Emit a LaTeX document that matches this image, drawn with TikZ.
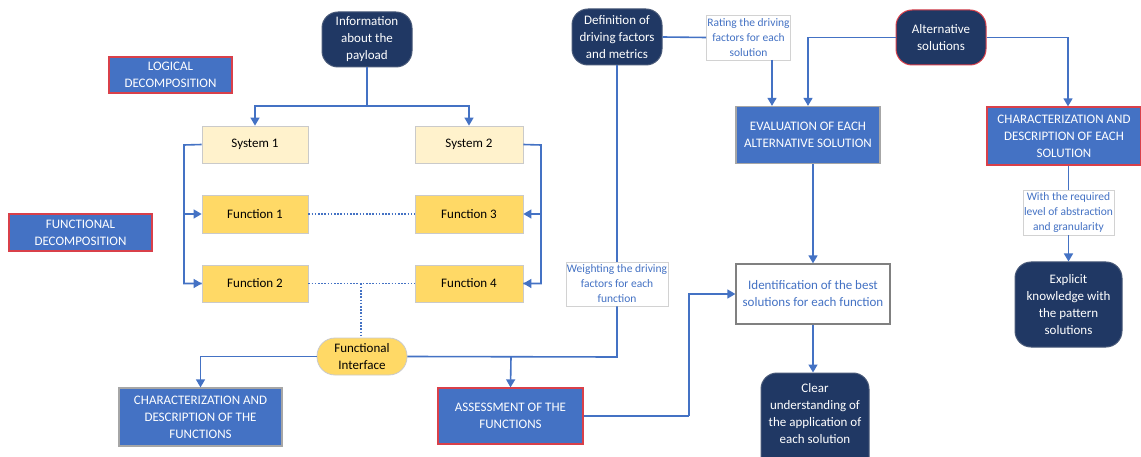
\documentclass[tikz,border=0pt]{standalone}
\usepackage{fontspec}
\setmainfont{Carlito}
\usetikzlibrary{arrows.meta}
\definecolor{navy}{HTML}{203864}
\definecolor{mblue}{HTML}{4472C4}
\definecolor{redline}{HTML}{D9404A}
\definecolor{greyline}{HTML}{A6A6A6}
\definecolor{paleyellow}{HTML}{FFF2CC}
\definecolor{gold}{HTML}{FFD966}
\tikzset{
  base/.style={inner sep=1pt, align=center, font=\fontsize{13}{17}\selectfont, line width=1pt},
  navybox/.style={base, fill=navy, draw=navy!70!greyline, text=white, rounded corners=16pt},
  navyred/.style={navybox, draw=redline},
  bluebox/.style={base, fill=mblue, draw=greyline, text=white, line width=1.3pt},
  bluered/.style={base, fill=mblue, draw=redline, text=white, line width=1.3pt},
  sysbox/.style={base, fill=paleyellow, draw=greyline!60, line width=0.8pt},
  funcbox/.style={base, fill=gold, draw=greyline!60, line width=0.8pt},
  notebox/.style={base, fill=white, draw=greyline!50, text=mblue, line width=0.6pt, font=\fontsize{11.5}{15}\selectfont},
  whitebox/.style={base, fill=white, draw=gray, text=mblue, line width=1.3pt},
  link/.style={draw=mblue, line width=1.6pt},
  arr/.style={link, -{Triangle[length=8pt,width=9pt]}},
  dotlink/.style={draw=mblue, line width=1.4pt, dash pattern=on 1.6pt off 1.6pt},
}
\begin{document}
\begin{tikzpicture}[x=1pt,y=-1pt]
\useasboundingbox[fill=white] (0,0) rectangle (1141,457);

% left side: decomposition of the payload
\node[navybox, minimum width=90pt, minimum height=55pt] (info) at (367,39.5) {Information\\about the\\payload};
\node[bluered, minimum width=123pt, minimum height=36pt] (logic) at (170.5,75) {LOGICAL\\DECOMPOSITION};
\node[bluered, minimum width=143pt, minimum height=37pt] (funcdec) at (80.5,232.5) {FUNCTIONAL\\DECOMPOSITION};
\node[sysbox, minimum width=106pt, minimum height=37pt] (sys1) at (255,144.5) {System 1};
\node[sysbox, minimum width=108pt, minimum height=37pt] (sys2) at (469,144.5) {System 2};
\node[funcbox, minimum width=106pt, minimum height=38pt] (f1) at (255,214) {Function 1};
\node[funcbox, minimum width=108pt, minimum height=38pt] (f3) at (469,214) {Function 3};
\node[funcbox, minimum width=106pt, minimum height=37pt] (f2) at (255,283.5) {Function 2};
\node[funcbox, minimum width=108pt, minimum height=37pt] (f4) at (469,283.5) {Function 4};
\node[funcbox, minimum width=90pt, minimum height=37pt, rounded corners=18pt] (fi) at (362,356.5) {Functional\\Interface};
\node[bluebox, minimum width=163pt, minimum height=58pt] (charf) at (200.5,417) {CHARACTERIZATION AND\\DESCRIPTION OF THE\\FUNCTIONS};
\node[bluered, minimum width=145pt, minimum height=56pt] (assess) at (510.5,416) {ASSESSMENT OF THE\\FUNCTIONS};

% middle: driving factors and evaluation
\node[navybox, minimum width=90pt, minimum height=56pt] (def) at (617,37) {Definition of\\driving factors\\and metrics};
\node[notebox, minimum width=83pt, minimum height=45pt] (rate) at (748.5,37.5) {Rating the driving\\factors for each\\solution};
\node[notebox, minimum width=102pt, minimum height=44pt] (weight) at (617,284) {Weighting the driving\\factors for each\\function};
\node[bluebox, minimum width=144pt, minimum height=57pt] (eval) at (808,135) {EVALUATION OF EACH\\ALTERNATIVE SOLUTION};
\node[whitebox, minimum width=154pt, minimum height=60pt] (ident) at (813,294) {Identification of the best\\solutions for each function};
% runs past the lower edge of the page, so only its upper part shows
\node[navybox, minimum width=108pt, minimum height=104pt] (clear) at (815,425) {Clear\\understanding of\\the application of\\each solution\\\strut};

% right side: alternative solutions
\node[navyred, minimum width=90pt, minimum height=55pt] (alt) at (941,37.5) {Alternative\\solutions};
\node[bluered, minimum width=154pt, minimum height=58pt] (chars) at (1064,136) {CHARACTERIZATION AND\\DESCRIPTION OF EACH\\SOLUTION};
\node[notebox, minimum width=91pt, minimum height=45pt] (with) at (1068.5,212.5) {With the required\\level of abstraction\\and granularity};
\node[navybox, minimum width=107pt, minimum height=85pt] (expl) at (1068.5,304.5) {Explicit\\knowledge with\\the pattern\\solutions};

% helper points on the connector paths
\coordinate (split) at (367,106);
\coordinate (lbus) at (184,145);
\coordinate (rbus) at (541,145);
\coordinate (fidrop) at (361,283.5);
\coordinate (defturn) at (617,357);
\coordinate (assesstap) at (511,357);
\coordinate (ratedrop) at (772,60);
\coordinate (altleft) at (808,37.5);
\coordinate (altright) at (1068,37.5);
\coordinate (assturn) at (689,416);

% connectors
\draw[link] (info.south) -- (split);
\draw[arr] (split) -| (sys1.north);
\draw[arr] (split) -| (sys2.north);
\draw[link] (sys1.west) -- (lbus) |- (f2.west);
\draw[arr] (lbus |- f1.west) -- (f1.west);
\draw[arr] (lbus |- f2.west) -- (f2.west);
\draw[link] (sys2.east) -- (rbus) |- (f4.east);
\draw[arr] (rbus |- f3.east) -- (f3.east);
\draw[arr] (rbus |- f4.east) -- (f4.east);
\draw[dotlink] (f1.east) -- (f3.west);
\draw[dotlink] (f2.east) -- (f4.west);
\draw[dotlink] (fidrop) -- (fidrop |- fi.north);
\draw[arr] (fi.west) -| (charf.north);
\draw[link] (def.south) -- (weight.north);
\draw[link] (weight.south) -- (defturn) -- (fi.east);
\draw[arr] (assesstap) -- (assess.north);
\draw[link] (def.east) -- (rate.west);
\draw[arr] (ratedrop) -- (ratedrop |- eval.north);
\draw[link] (alt.west) -- (altleft);
\draw[arr] (altleft) -- (altleft |- eval.north);
\draw[link] (alt.east) -- (altright);
\draw[arr] (altright) -- (altright |- chars.north);
\draw[arr] (eval.south -| ident.north) -- (ident.north);
\draw[arr] (ident.south) -- (ident.south |- clear.north);
\draw[link] (assess.east) -- (assturn);
\draw[arr] (assturn) |- (ident.west);
\draw[link] (chars.south -| with.north) -- (with.north);
\draw[arr] (with.south) -- (expl.north);
\end{tikzpicture}
\end{document}
